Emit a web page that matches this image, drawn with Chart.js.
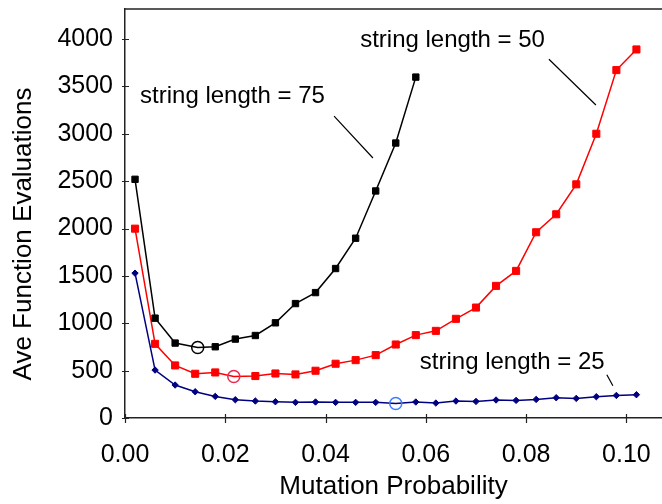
<!DOCTYPE html>
<html>
<head>
<meta charset="utf-8">
<script src="https://cdn.jsdelivr.net/npm/chart.js@4.4.1/dist/chart.umd.min.js"></script>
<style>
  html, body { margin: 0; padding: 0; background: #fff; }
  #wrap { width: 662px; height: 504px; position: relative; }
</style>
</head>
<body>
<div id="wrap"><canvas id="chart"></canvas></div>
<script>
// ── Données ────────────────────────────────────────────────
const X_75 = [0.002, 0.006, 0.010, 0.0145, 0.018, 0.022, 0.026, 0.030, 0.034, 0.038, 0.042, 0.046, 0.050, 0.054, 0.058];
const Y_75 = [2520, 1054, 791, 744, 752, 833, 871, 1005, 1208, 1324, 1578, 1898, 2397, 2903, 3599];
const OPT_75 = 3;   // index du point optimum (cercle)

const X_50 = [0.002, 0.006, 0.010, 0.014, 0.018, 0.0217, 0.026, 0.030, 0.034, 0.038, 0.042, 0.046, 0.050, 0.054,
              0.058, 0.062, 0.066, 0.070, 0.074, 0.078, 0.082, 0.086, 0.090, 0.094, 0.098, 0.102];
const Y_50 = [1999, 783, 555, 467, 481, 439, 443, 470, 460, 499, 573, 611, 664, 776,
              875, 920, 1047, 1166, 1395, 1553, 1961, 2151, 2467, 3001, 3673, 3891];
const OPT_50 = 5;

const X_25 = [0.002, 0.006, 0.010, 0.014, 0.018, 0.022, 0.026, 0.030, 0.034, 0.038, 0.042, 0.046, 0.050, 0.054,
              0.058, 0.062, 0.066, 0.070, 0.074, 0.078, 0.082, 0.086, 0.090, 0.094, 0.098, 0.102];
const Y_25 = [1529, 506, 348, 277, 228, 193, 179, 172, 165, 169, 165, 165, 165, 154,
              169, 158, 179, 175, 190, 186, 196, 214, 207, 225, 238, 246];
const OPT_25 = 13;

const X_TICKS = [0, 0.02, 0.04, 0.06, 0.08, 0.10];
const Y_TICKS = [0, 500, 1000, 1500, 2000, 2500, 3000, 3500, 4000];

const LABELS = ['string length = 75', 'string length = 50', 'string length = 25'];

// ── Mise en page ───────────────────────────────────────────
const FONT = '"Liberation Sans", Arial, Helvetica, sans-serif';
const X_MAX = 0.1071;
const Y_MAX = 4318;

// positions des étiquettes (x, y en unités des axes, ligne de base)
const LABEL_POS = [[0.0030, 3321], [0.0469, 3915], [0.0588, 517]];
// traits de renvoi [x1, y1, x2, y2]
const LEADERS = [
    [0.0417, 3188, 0.04945, 2745],
    [0.08455, 3787, 0.09392, 3304],
    [0.0961, 457, 0.0973, 341],
];

function points(xs, ys) {
    return xs.map((x, i) => ({ x, y: ys[i] }));
}

function series(xs, ys, opt, color, style, radius, circleColor) {
    return {
        data: points(xs, ys),
        borderColor: color,
        borderWidth: 1.5,
        pointStyle: xs.map((_, i) => i === opt ? 'circle' : style),
        pointRadius: xs.map((_, i) => i === opt ? 6 : radius),
        pointBackgroundColor: xs.map((_, i) => i === opt ? 'rgba(0,0,0,0)' : color),
        pointBorderColor: xs.map((_, i) => i === opt ? circleColor : color),
        pointBorderWidth: xs.map((_, i) => i === opt ? 1.5 : 1),
        tension: 0,
        clip: false,
    };
}

const decor = {
    id: 'decor',
    afterDraw(chart) {
        const { ctx, chartArea: a, scales: { x, y } } = chart;
        ctx.save();
        // cadre haut
        ctx.strokeStyle = '#222';
        ctx.lineWidth = 1.5;
        ctx.beginPath();
        ctx.moveTo(a.left, a.top);
        ctx.lineTo(a.right, a.top);
        ctx.stroke();
        // graduations qui traversent les axes
        ctx.lineWidth = 1.2;
        ctx.beginPath();
        Y_TICKS.forEach(v => {
            const py = Math.round(y.getPixelForValue(v)) + 0.5;
            ctx.moveTo(a.left - 3, py);
            ctx.lineTo(a.left + 4, py);
        });
        X_TICKS.forEach(v => {
            const px = Math.round(x.getPixelForValue(v)) + 0.5;
            ctx.moveTo(px, a.bottom - 4);
            ctx.lineTo(px, a.bottom + 5);
        });
        ctx.stroke();
        // traits de renvoi
        ctx.strokeStyle = '#000';
        ctx.lineWidth = 1.2;
        ctx.beginPath();
        LEADERS.forEach(([x1, y1, x2, y2]) => {
            ctx.moveTo(x.getPixelForValue(x1), y.getPixelForValue(y1));
            ctx.lineTo(x.getPixelForValue(x2), y.getPixelForValue(y2));
        });
        ctx.stroke();
        // étiquettes
        ctx.fillStyle = '#000';
        ctx.font = '24px ' + FONT;
        ctx.textAlign = 'left';
        ctx.textBaseline = 'alphabetic';
        LABELS.forEach((t, i) => {
            ctx.fillText(t, x.getPixelForValue(LABEL_POS[i][0]), y.getPixelForValue(LABEL_POS[i][1]));
        });
        // titre de l'axe Y
        ctx.translate(24, 234);
        ctx.rotate(-Math.PI / 2);
        ctx.font = '26px ' + FONT;
        ctx.textAlign = 'center';
        ctx.textBaseline = 'middle';
        ctx.fillText('Ave Function Evaluations', 0, 0);
        ctx.restore();
    }
};

const ctx = document.getElementById('chart').getContext('2d');
new Chart(ctx, {
    type: 'line',
    data: {
        datasets: [
            series(X_75, Y_75, OPT_75, '#000000', 'rect', 4.5, '#000000'),
            series(X_50, Y_50, OPT_50, '#ff0000', 'rect', 5, '#f02850'),
            series(X_25, Y_25, OPT_25, '#000080', 'rectRot', 3.2, '#3d7dff'),
        ]
    },
    options: {
        responsive: true,
        maintainAspectRatio: false,
        animation: false,
        layout: { autoPadding: false, padding: { top: 9, right: 0, left: 0, bottom: 0 } },
        plugins: { legend: { display: false }, tooltip: { enabled: false } },
        scales: {
            x: {
                type: 'linear',
                min: 0, max: X_MAX,
                afterFit: s => { s.height = 86; s.paddingLeft = 0; s.paddingRight = 0; },
                afterBuildTicks: s => { s.ticks = X_TICKS.map(v => ({ value: v })); },
                ticks: {
                    color: '#000',
                    padding: 22,
                    maxRotation: 0,
                    font: { family: FONT, size: 25 },
                    callback: v => v.toFixed(2),
                },
                grid: { display: false, drawTicks: false },
                border: { display: true, color: '#222', width: 1.5 },
                title: {
                    display: true,
                    text: 'Mutation Probability',
                    color: '#000',
                    font: { family: FONT, size: 26 },
                    padding: { top: 0, bottom: 2 },
                },
            },
            y: {
                min: 0, max: Y_MAX,
                afterFit: s => { s.width = 125; s.paddingTop = 0; s.paddingBottom = 0; },
                afterBuildTicks: s => { s.ticks = Y_TICKS.map(v => ({ value: v })); },
                ticks: {
                    color: '#000',
                    padding: 12,
                    font: { family: FONT, size: 25 },
                    callback: v => String(v),
                },
                grid: { display: false, drawTicks: false },
                border: { display: true, color: '#222', width: 1.5 },
            }
        }
    },
    plugins: [decor]
});
</script>
</body>
</html>
